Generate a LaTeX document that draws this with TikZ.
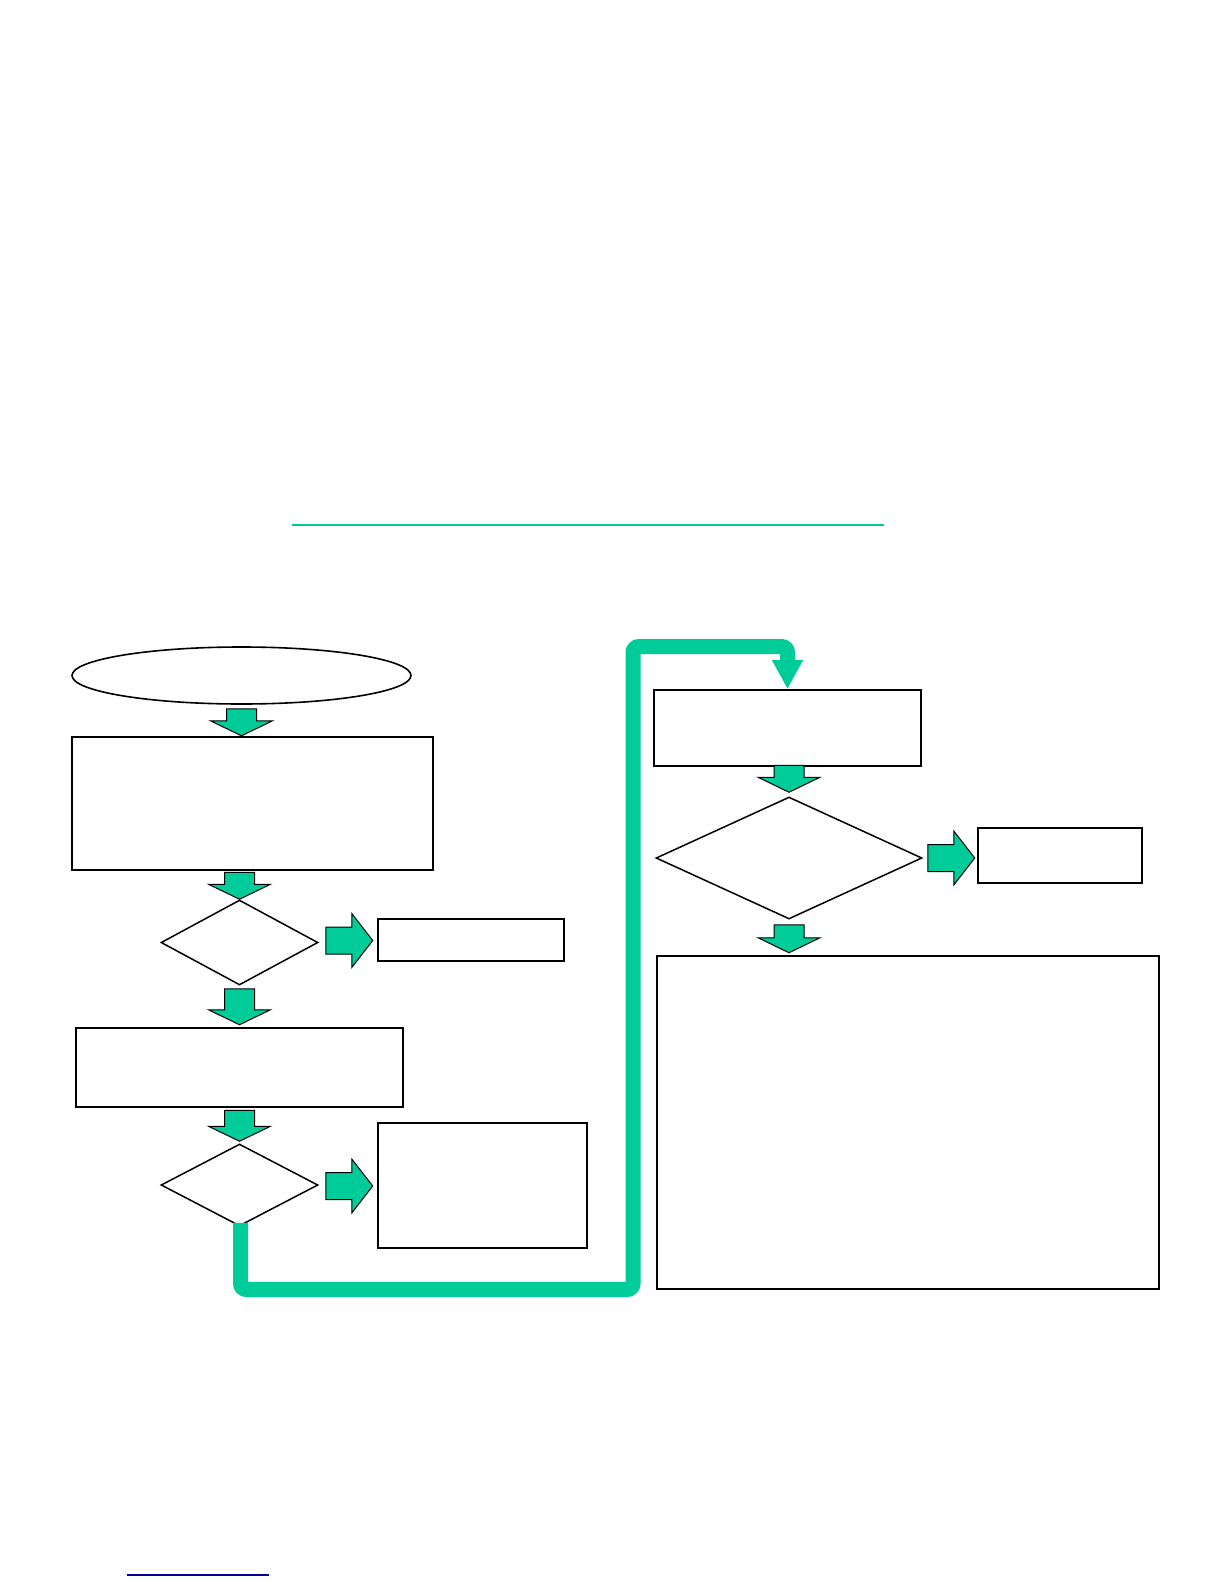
\documentclass[tikz,border=0pt]{standalone}
\usepackage{xcolor}
\usepackage{tikz}
\usetikzlibrary{shapes.geometric, arrows.meta, calc}
\definecolor{flowteal}{HTML}{00CC99}
\definecolor{linkblue}{HTML}{000099}

\begin{document}
\begin{tikzpicture}[
  x=0.5pt, y=-0.5pt,
  box/.style={draw, line width=0.9pt, inner sep=0pt, fill=white},
  dec/.style={draw, diamond, line width=0.75pt, inner sep=0pt, fill=white},
  blk/.style={draw=black, line width=0.5pt, fill=flowteal, line join=miter},
  flow/.style={draw=flowteal, line width=7.5pt, rounded corners=3pt,
    -{Triangle[width=14.5pt, length=14.5pt]}},
  pics/downblock/.style={code={
    \path[blk] (-15,0) -- (15,0) -- (15,#1-15) -- (31,#1-15) -- (0,#1)
      -- (-31,#1-15) -- (-15,#1-15) -- cycle;}},
  pics/rightblock/.style={code={
    \path[blk] (0,-13.5) -- (#1-21,-13.5) -- (#1-21,-27) -- (#1,0)
      -- (#1-21,27) -- (#1-21,13.5) -- (0,13.5) -- cycle;}}
]
  \useasboundingbox (0,0) rectangle (1224,1584);

  \draw[flowteal, line width=1.25pt] (292,525) -- (884,525);

  \node[ellipse, draw, line width=0.8pt, inner sep=0pt, minimum width=169.5pt, minimum height=28.5pt] (start) at (241.5,675.5) {};
  \node[box, minimum width=180.5pt, minimum height=66.5pt] (box1) at (252.5,803.5) {};
  \node[dec, minimum width=78.5pt, minimum height=42.5pt] (d1) at (239.5,942.5) {};
  \node[box, minimum width=93pt, minimum height=21pt] (out1) at (471,940) {};
  \node[box, minimum width=163.5pt, minimum height=39.5pt] (box2) at (239.5,1067.5) {};
  \node[dec, minimum width=78.5pt, minimum height=41pt] (d2) at (239.5,1185) {};
  \node[box, minimum width=104.5pt, minimum height=62.5pt] (out2) at (482.5,1185.5) {};

  \node[box, minimum width=133.5pt, minimum height=38pt] (box3) at (787.5,728) {};
  \node[dec, minimum width=133pt, minimum height=61pt] (d3) at (789,858) {};
  \node[box, minimum width=82pt, minimum height=27.5pt] (out3) at (1060,855.5) {};
  \node[box, minimum width=251pt, minimum height=166.5pt] (box5) at (908,1122.5) {};

  \pic at ($(start.south)+(0,4)$) {downblock=27};
  \pic at ($(d1.north)+(0,-27)$) {downblock=27};
  \pic at ($(d1.east)+(7,-2)$) {rightblock=47};
  \pic at ($(d1.south)+(0,3)$) {downblock=36};
  \pic at ($(d2.north)+(0,-33)$) {downblock=31};
  \pic at ($(d2.east)+(7,1)$) {rightblock=47};
  \pic at ($(d3.north)+(0,-31)$) {downblock=27};
  \pic at ($(d3.east)+(5,0)$) {rightblock=47};
  \pic at ($(d3.south)+(0,5)$) {downblock=28};

  \coordinate (lowturn) at (633,1289.5);
  \coordinate (highturn) at (787.5,646.5);
  \draw[flow] ($(d2.south)+(1,-4)$) |- (lowturn) |- (highturn) -- (box3.north);

  \draw[linkblue, line width=0.75pt] (127,1575) -- (269,1575);
\end{tikzpicture}
\end{document}
